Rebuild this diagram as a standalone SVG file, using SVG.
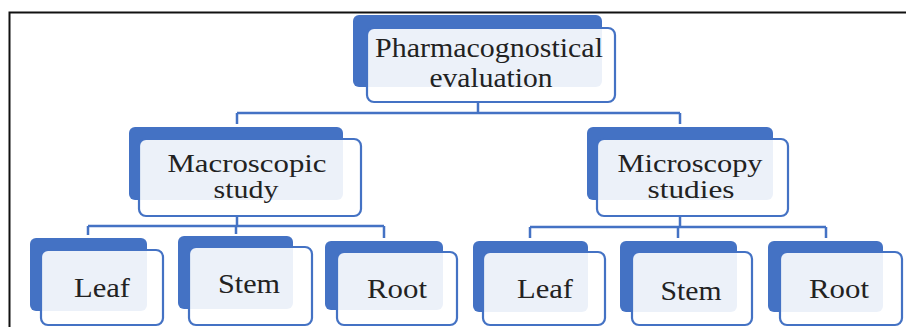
<svg xmlns="http://www.w3.org/2000/svg" width="906" height="327" viewBox="0 0 906 327">
<style>
.bk{fill:#4472c4;}
.fr{fill:#ffffff;fill-opacity:0.9;stroke:#4472c4;stroke-width:2.2;}
.cn{fill:none;stroke:#4472c4;stroke-width:2.5;}
text{font-family:"Liberation Serif","Times New Roman",serif;font-size:27px;fill:#222;text-anchor:middle;}
.sm{font-size:25px;}
</style>
<rect width="906" height="327" fill="#ffffff"/>
<path d="M9.5,327 V12.5 H906" fill="none" stroke="#111" stroke-width="2"/>
<g id="connectors">
<path class="cn" d="M478,102 V113 M237,113 H680 M237,113 V124 M680,113 V124"/>
<path class="cn" d="M237,216 V226 M88,226 H384 M88,226 V235 M236,226 V234 M384,226 V238"/>
<path class="cn" d="M680,216 V227 M530,227 H826 M530,227 V238 M678,227 V238 M826,227 V238"/>
</g>
<g id="n-top">
<rect class="bk" x="353" y="15" width="249" height="72" rx="6"/>
<rect class="fr" x="367" y="28" width="248" height="74" rx="7"/>
<text x="489" y="57" textLength="228" lengthAdjust="spacingAndGlyphs">Pharmacognostical</text>
<text x="491" y="87" textLength="123" lengthAdjust="spacingAndGlyphs">evaluation</text>
</g>
<g id="n-macro">
<rect class="bk" x="129" y="127" width="214" height="73" rx="6"/>
<rect class="fr" x="139" y="139" width="222" height="77" rx="7"/>
<text class="sm" x="247" y="172" textLength="159" lengthAdjust="spacingAndGlyphs">Macroscopic</text>
<text class="sm" x="246" y="198" textLength="65" lengthAdjust="spacingAndGlyphs">study</text>
</g>
<g id="n-micro">
<rect class="bk" x="587" y="127" width="186" height="73" rx="6"/>
<rect class="fr" x="597" y="139" width="191" height="77" rx="7"/>
<text class="sm" x="690" y="172" textLength="145" lengthAdjust="spacingAndGlyphs">Microscopy</text>
<text class="sm" x="691" y="198" textLength="87" lengthAdjust="spacingAndGlyphs">studies</text>
</g>
<g id="n-leaf1">
<rect class="bk" x="30" y="238" width="117" height="73" rx="6"/>
<rect class="fr" x="41" y="250" width="122" height="75" rx="7"/>
<text x="102" y="297" textLength="56" lengthAdjust="spacingAndGlyphs">Leaf</text>
</g>
<g id="n-stem1">
<rect class="bk" x="178" y="236" width="115" height="73" rx="6"/>
<rect class="fr" x="189" y="247" width="123" height="78" rx="7"/>
<text x="249" y="293" textLength="62" lengthAdjust="spacingAndGlyphs">Stem</text>
</g>
<g id="n-root1">
<rect class="bk" x="325" y="241" width="118" height="69" rx="6"/>
<rect class="fr" x="337" y="252" width="120" height="73" rx="7"/>
<text x="397" y="298" textLength="60" lengthAdjust="spacingAndGlyphs">Root</text>
</g>
<g id="n-leaf2">
<rect class="bk" x="473" y="241" width="115" height="71" rx="6"/>
<rect class="fr" x="483" y="252" width="122" height="73" rx="7"/>
<text x="545" y="298" textLength="56" lengthAdjust="spacingAndGlyphs">Leaf</text>
</g>
<g id="n-stem2">
<rect class="bk" x="620" y="241" width="117" height="71" rx="6"/>
<rect class="fr" x="632" y="252" width="120" height="73" rx="7"/>
<text x="691" y="300" textLength="61" lengthAdjust="spacingAndGlyphs">Stem</text>
</g>
<g id="n-root2">
<rect class="bk" x="768" y="241" width="115" height="71" rx="6"/>
<rect class="fr" x="780" y="252" width="122" height="73" rx="7"/>
<text x="839" y="298" textLength="60" lengthAdjust="spacingAndGlyphs">Root</text>
</g>
</svg>
